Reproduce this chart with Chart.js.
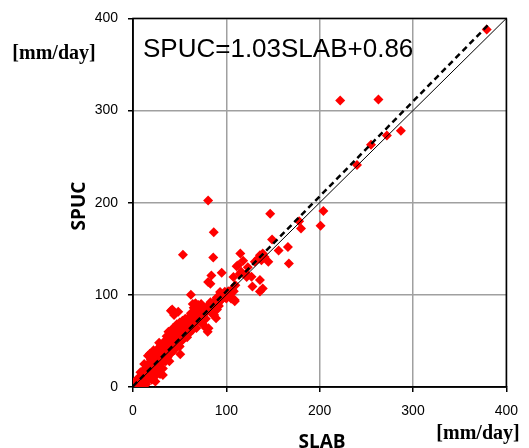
<!DOCTYPE html>
<html><head><meta charset="utf-8">
<script src="https://cdn.jsdelivr.net/npm/chart.js@4/dist/chart.umd.min.js"></script>
<style>html,body{margin:0;padding:0;background:#fff;}canvas{display:block;}</style>
</head><body>
<canvas id="c" width="529" height="448"></canvas>
<script>
// SLAB (x) values, mm/day
const slab = [379,222,263,287,272,255,240,204,201,180,178,147,80.5,86.5,149,166,156,167,145,53.5,86,115,84,95,136,128,139,136,80.5,83,62,118,123,111,107.6,116,121.8,109.7,93.3,100.4,106,89.8,89,80.9,64,40.6,50.6,136,139,134,130.5,137.6,141,114.4,127,112.6,98.4,109,67,70,72,48.5,121.6,
0,1,2,1,3,2,4,3,5,4,5,6,
6,7,7,8,8,9,9,10,10,10,8,9,
11,11,12,12,13,13,14,14,15,15,12,14,
16,16,17,17,18,18,19,19,20,20,16,18,20,
21,21,22,22,23,23,24,24,25,25,22,24,
26,26,27,27,28,28,29,29,30,30,28,
31,31,32,32,33,33,34,34,35,35,32,
36,36,37,37,38,38,39,39,40,40,
41,41,42,42,43,43,44,44,45,42,44,
46,46,47,47,48,48,49,49,50,50,50,
51,51,52,52,53,53,54,54,55,55,
56,56,57,57,58,58,59,60,60,60,
61,62,62,63,64,64,65,66,66,67,68,68,69,70,70,
71,72,73,73,74,75,75,76,77,78,78,79,80,80,
82,83,84,85,86,87,88,90,91,92,94,95,
96,98,100,102,104,105,106,108,109];
// SPUC (y) values, mm/day
const spuc = [388,311,312,278,273,263,241,191,175,172,180,188,202.5,168,160,152,148,134,136,143.5,140.5,145,121,124,116,109,107,103.6,114,112,100,137,130,131,119.4,125,119.4,110.4,103.2,97.8,96,97,74.5,63.7,90,82.7,35.6,143,145,139.5,136,137.6,141,123,119.6,132,103.4,94.4,91,89,87,81.7,123,
0,1,1,3,2,5,3,6,4,8,2,5,
9,5,11,7,3,12,8,6,14,10,16,2,
9,17,12,5,20,10,14,7,18,11,25,3,
22,14,9,26,18,12,30,20,16,8,34,36,26,
22,13,29,18,24,35,20,12,28,38,40,6,
24,32,18,42,28,36,22,14,30,45,48,
26,38,34,20,44,30,50,38,28,34,13,
42,55,32,46,38,60,44,28,48,36,
42,58,52,38,64,46,50,40,55,84,78,
44,60,52,68,48,56,62,45,58,70,44,
54,62,66,50,58,72,60,52,64,56,
62,74,58,68,64,54,70,66,58,76,
72,64,80,68,74,62,86,70,78,88,74,64,80,72,86,
76,80,70,90,82,78,68,86,80,74,64,84,60,88,
84,92,80,90,86,78,94,84,90,88,94,100,
96,98,96,104,100,96,106,104,93];
// reference lines
const oneToOneX = [0, 400], oneToOneY = [0, 400];
const fitX = [0, 380], fitY = [0.86, 392.3];
const xTicks = [0,100,200,300,400], yTicks = [0,100,200,300,400];

const pts = slab.map((x,i)=>({x:x, y:spuc[i]}));
const line1 = oneToOneX.map((x,i)=>({x:x,y:oneToOneY[i]}));
const line2 = fitX.map((x,i)=>({x:x,y:fitY[i]}));

const deco = {
  id:'deco',
  beforeDatasetsDraw(chart){
    const a = chart.chartArea, ctx = chart.ctx;
    ctx.save();
    ctx.strokeStyle = '#000'; ctx.lineWidth = 1.5;
    ctx.strokeRect(a.left, a.top, a.right-a.left, a.bottom-a.top);
    ctx.restore();
  },
  afterDraw(chart){
    const ctx = chart.ctx;
    ctx.save();
    ctx.fillStyle = '#000';
    ctx.textBaseline = 'alphabetic';
    ctx.textAlign = 'left';
    ctx.font = '26px "Liberation Sans", Arial, sans-serif';
    ctx.fillText('SPUC=1.03SLAB+0.86', 143, 57);
    ctx.font = 'bold 20px "Liberation Serif", "Times New Roman", serif';
    ctx.textAlign = 'center';
    ctx.fillText('[mm/day]', 54, 59);
    ctx.fillText('[mm/day]', 478, 439);
    ctx.font = 'bold 19px "Open Sans", "Noto Sans", sans-serif';
    ctx.fillText('SLAB', 322, 448);
    ctx.translate(85, 206);
    ctx.rotate(-Math.PI/2);
    ctx.fillText('SPUC', 0, 0);
    ctx.restore();
  }
};

new Chart(document.getElementById('c'), {
  type:'scatter',
  data:{datasets:[
    {type:'line', data:line2, borderColor:'#000', borderWidth:2.5, borderDash:[6,4], pointRadius:0, fill:false, tension:0},
    {type:'line', data:line1, borderColor:'#000', borderWidth:1, pointRadius:0, fill:false, tension:0},
    {data:pts, pointStyle:'rectRot', pointRadius:5, pointBackgroundColor:'#ff0000', pointBorderWidth:0, borderWidth:0, backgroundColor:'#ff0000'}
  ]},
  options:{
    responsive:false, animation:false, devicePixelRatio:1,
    layout:{padding:{left:0, right:22, top:17, bottom:0}},
    plugins:{legend:{display:false}, tooltip:{enabled:false}},
    scales:{
      x:{type:'linear', min:0, max:400,
        afterFit(s){ s.height = 61; },
        afterBuildTicks(s){ s.ticks = xTicks.map(v=>({value:v})); },
        ticks:{padding:11, color:'#000', font:{family:'"Liberation Sans", Arial, sans-serif', size:14}, maxRotation:0},
        grid:{color:'#a0a0a0', lineWidth:1.5, tickLength:5, tickColor:'#000', tickWidth:1.5},
        border:{color:'#000', width:1.5}
      },
      y:{type:'linear', min:0, max:400,
        afterFit(s){ s.width = 133; },
        afterBuildTicks(s){ s.ticks = yTicks.map(v=>({value:v})); },
        ticks:{padding:10, color:'#000', font:{family:'"Liberation Sans", Arial, sans-serif', size:14}},
        grid:{color:'#a0a0a0', lineWidth:1.5, tickLength:5, tickColor:'#000', tickWidth:1.5},
        border:{color:'#000', width:1.5}
      }
    }
  },
  plugins:[deco]
});
</script>
</body></html>
